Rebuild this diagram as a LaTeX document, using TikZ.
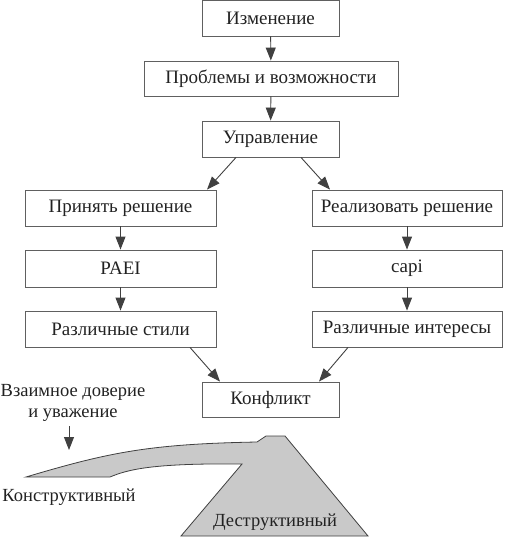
\documentclass[tikz,border=0pt]{standalone}
\usepackage{fontspec}
\setmainfont{Liberation Serif}
\usetikzlibrary{arrows.meta}
\definecolor{ln}{HTML}{404040}
\definecolor{bx}{HTML}{606060}
\definecolor{tx}{HTML}{222222}
\definecolor{sh}{HTML}{C9C9C9}
\tikzset{
  stepbox/.style={draw=bx, line width=0.9pt, minimum height=36pt, inner sep=0pt, text=tx, font=\rmfamily\fontsize{19}{21}\selectfont},
  conn/.style={draw=ln, line width=0.9pt, -{Triangle[length=13pt,width=10pt]}},
  lbl/.style={text=tx, font=\rmfamily\fontsize{18.5}{20.5}\selectfont, inner sep=0pt},
}
\begin{document}
\begin{tikzpicture}[x=1pt,y=-1pt]
\useasboundingbox (0,0) rectangle (515,537);
\node[stepbox, minimum width=137pt] (b1) at (270.5,18) {Изменение};
\node[stepbox, minimum width=254pt, minimum height=35pt] (b2) at (271,78.5) {Проблемы и возможности};
\node[stepbox, minimum width=137pt] (b3) at (270.5,139) {Управление};
\node[stepbox, minimum width=191pt] (l1) at (120.5,208) {Принять решение};
\node[stepbox, minimum width=190pt] (r1) at (407,208) {Реализовать решение};
\node[stepbox, minimum width=191pt, minimum height=37pt] (l2) at (120.5,268.5) {PAEI};
\node[stepbox, minimum width=190pt, minimum height=37pt] (r2) at (407,268.5) {capi};
\node[stepbox, minimum width=191pt] (l3) at (120.5,329) {Различные стили};
\node[stepbox, minimum width=190pt] (r3) at (407,329) {Различные интересы};
\node[stepbox, minimum width=137pt, minimum height=35pt] (k) at (270.5,399.5) {Конфликт};

\draw[conn] (b1) -- (b2);
\draw[conn] (b2) -- (b3);
\draw[conn] ([xshift=-34.5pt]b3.south) -- ([xshift=86.5pt]l1.north);
\draw[conn] ([xshift=30.5pt]b3.south) -- ([xshift=-77pt]r1.north);
\draw[conn] (l1) -- (l2);
\draw[conn] (l2) -- (l3);
\draw[conn] (r1) -- (r2);
\draw[conn] (r2) -- (r3);
\draw[conn] ([xshift=69.5pt]l3.south) -- ([xshift=-50.5pt]k.north);
\draw[conn] ([xshift=-59pt]r3.south) -- ([xshift=48.5pt]k.north);

\node[lbl, align=center] (trust) at (73,403) {Взаимное доверие\\и уважение};
\coordinate (ta) at (69,450);
\draw[conn] (69,426) -- (ta);

\filldraw[fill=sh, draw=ln, line width=0.8pt]
  (26,477) -- (110,477) .. controls (127,470) and (150,463) .. (242,464)
  -- (181,536) -- (368,536) -- (285,436) -- (266,436) -- (257,442)
  .. controls (150,444) and (110,452) .. (26,477) -- cycle;

\node[lbl] (kon) at (69,497) {Конструктивный};
\node[lbl] (des) at (275,522) {Деструктивный};
\end{tikzpicture}
\end{document}
